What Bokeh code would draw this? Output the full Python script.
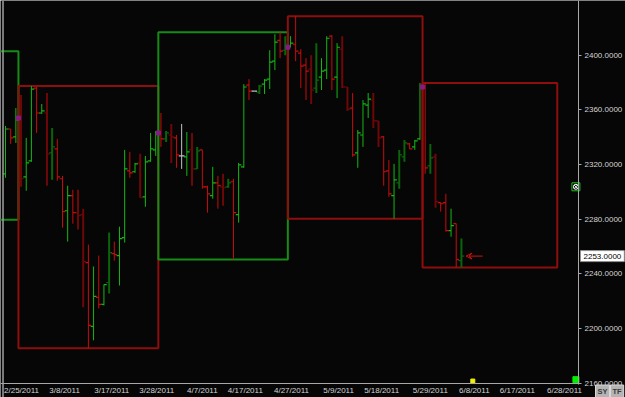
import numpy as np
from bokeh.plotting import figure
from bokeh.models import (Range1d, FixedTicker, NumeralTickFormatter, Label, Arrow,
                          VeeHead, Span, ColumnDataSource)
from bokeh.embed import file_html
from bokeh.resources import INLINE

# ---------------- data (daily bars, index = bar number) ----------------
bar_open = [2313.2, 2346.0, 2340.2, 2354.0, 2311.0, 2322.7, 2375.9, 2357.7, 2357.7, 2328.5,
            2331.4, 2309.6, 2286.2, 2297.2, 2284.8, 2283.3, 2248.3, 2201.6, 2222.8, 2217.7,
            2233.7, 2254.8, 2253.4, 2266.5, 2315.4, 2314.7, 2321.2, 2296.4, 2322.7, 2330.7,
            2343.1, 2338.7, 2341.6, 2339.5, 2326.3, 2325.6, 2330.7, 2316.8, 2330.7, 2303.7,
            2297.2, 2306.6, 2303.7, 2303.7, 2307.4, 2283.3, 2318.3, 2378.1, 2373.7, 2373.0,
            2378.8, 2382.5, 2395.6, 2410.9, 2403.6, 2405.8, 2408.0, 2401.5, 2392.7, 2389.8,
            2375.9, 2384.0, 2389.1, 2413.9, 2384.0, 2404.4, 2376.7, 2361.3, 2328.5, 2341.6,
            2363.5, 2367.2, 2351.9, 2340.2, 2315.4, 2297.2, 2306.6, 2325.6, 2335.1, 2332.9,
            2338.7, 2376.7, 2319.0, 2325.6, 2292.1, 2292.1, 2271.6, 2276.7, 2249.7]
bar_high = [2348.2, 2346.0, 2361.3, 2370.8, 2339.5, 2377.4, 2376.7, 2364.3, 2372.3, 2346.8,
            2338.7, 2311.7, 2304.5, 2301.5, 2301.5, 2287.7, 2261.4, 2245.4, 2253.4, 2232.2,
            2270.2, 2263.6, 2274.5, 2330.7, 2329.3, 2321.2, 2327.8, 2326.3, 2343.1, 2344.6,
            2357.7, 2344.6, 2349.7, 2341.6, 2349.7, 2343.8, 2343.1, 2332.9, 2330.7, 2304.5,
            2318.3, 2311.7, 2313.2, 2309.6, 2309.6, 2321.2, 2378.8, 2382.5, 2373.7, 2378.1,
            2382.5, 2403.6, 2415.3, 2416.8, 2413.9, 2413.9, 2428.4, 2404.4, 2397.8, 2400.0,
            2408.8, 2397.8, 2413.9, 2414.6, 2408.8, 2413.9, 2376.7, 2372.3, 2345.3, 2367.2,
            2372.3, 2372.3, 2351.9, 2340.9, 2323.4, 2320.5, 2330.7, 2338.0, 2335.8, 2338.0,
            2379.6, 2379.6, 2335.1, 2327.8, 2292.1, 2298.6, 2287.7, 2276.7, 2265.8]
bar_low = [2310.3, 2335.1, 2335.8, 2303.7, 2300.8, 2322.0, 2343.1, 2357.0, 2304.5, 2308.8,
           2308.1, 2273.8, 2263.6, 2276.7, 2272.4, 2215.5, 2185.6, 2191.4, 2214.7, 2216.9,
           2225.7, 2249.7, 2231.5, 2262.9, 2310.3, 2313.9, 2295.7, 2289.1, 2322.0, 2326.3,
           2332.9, 2336.5, 2321.2, 2317.6, 2316.8, 2311.7, 2304.5, 2316.8, 2302.3, 2284.8,
           2295.0, 2287.7, 2289.9, 2303.0, 2250.5, 2277.5, 2317.6, 2367.2, 2373.7, 2371.6,
           2371.6, 2375.2, 2389.1, 2397.8, 2400.0, 2405.8, 2395.6, 2375.9, 2367.2, 2364.3,
           2372.3, 2374.5, 2382.5, 2374.5, 2368.6, 2375.9, 2359.2, 2325.6, 2317.6, 2332.9,
           2354.0, 2346.8, 2332.9, 2304.5, 2296.4, 2280.4, 2302.3, 2322.0, 2331.4, 2330.7,
           2338.0, 2313.2, 2313.2, 2288.4, 2285.5, 2270.9, 2267.2, 2244.6, 2244.6]
bar_close = [2346.0, 2339.5, 2352.6, 2309.6, 2321.2, 2375.2, 2357.7, 2359.2, 2327.8, 2332.9,
             2311.0, 2285.5, 2297.2, 2284.8, 2282.6, 2249.0, 2202.3, 2223.5, 2217.7, 2232.2,
             2255.6, 2254.1, 2265.8, 2316.8, 2313.9, 2320.5, 2295.7, 2322.0, 2331.4, 2343.1,
             2338.7, 2343.1, 2340.2, 2327.1, 2326.3, 2329.3, 2316.8, 2330.0, 2303.7, 2298.6,
             2306.6, 2304.5, 2303.0, 2306.6, 2284.8, 2319.8, 2376.7, 2373.7, 2373.7, 2377.4,
             2381.8, 2394.9, 2409.5, 2402.9, 2407.3, 2408.8, 2402.9, 2392.0, 2388.3, 2374.5,
             2381.8, 2388.3, 2412.4, 2382.5, 2405.8, 2376.7, 2360.6, 2327.1, 2343.1, 2364.3,
             2367.9, 2351.9, 2339.5, 2314.7, 2298.6, 2308.8, 2327.1, 2335.8, 2331.4, 2337.3,
             2377.4, 2317.6, 2324.9, 2292.8, 2291.3, 2271.6, 2275.3, 2250.5, 2253.0]
# bars drawn in the darker shade
dark_bars = [3, 8, 9, 14, 15, 20, 26, 31, 32, 36, 37, 42, 43, 49, 54, 59, 60, 65, 66,
             71, 72, 76, 77, 82, 83, 88]

# monthly range boxes
month_names = ["Feb", "Mar", "Apr", "May", "Jun"]
month_first_bar = [-21, 3, 30, 55, 81]
month_last_bar = [2, 29, 54, 80, 106]
month_open = [2285.0, 2354.0, 2343.1, 2405.8, 2376.7]
month_high = [2402.9, 2377.4, 2416.8, 2428.4, 2379.6]
month_low = [2279.6, 2185.6, 2250.5, 2280.4, 2244.6]
month_close = [2352.6, 2343.1, 2407.3, 2377.4, 2253.0]

# axes
date_ticks = [3.1, 11.4, 20.5, 29.2, 38.0, 46.3, 55.2, 64.3, 72.6, 82.0, 90.5, 98.8, 107.9]
date_labels = ["2/25/2011", "3/8/2011", "3/17/2011", "3/28/2011", "4/7/2011", "4/17/2011",
               "4/27/2011", "5/9/2011", "5/18/2011", "5/29/2011", "6/8/2011", "6/17/2011",
               "6/28/2011"]
price_ticks = [2160, 2200, 2240, 2280, 2320, 2360, 2400]

# ---------------- styling ----------------
BG = "#060606"
GREEN, DGREEN = "#14b814", "#0b640b"
RED, DRED = "#c80c0c", "#6e0808"
GRAY = "#c4c4c4"
BOX_RED, BOX_GREEN = "#8e0e0e", "#168c16"
AXIS = "#a8a8a8"
FONT = "Liberation Sans"

X0, X_AXIS = -0.965, 110.6          # plotted bar span (axis line at right end)
Y_AXIS, Y1 = 2160.0, 2440.0         # price span (axis line at bottom)
px_per_bar = 578 / (X_AXIS - X0)
px_per_pt = 383 / (Y1 - 2159.8)
X1 = X0 + 625 / px_per_bar
Y0 = Y1 - 397 / px_per_pt

p = figure(width=625, height=397, output_backend="svg", toolbar_location=None,
           x_range=Range1d(X0, X1), y_range=Range1d(Y0, Y1),
           y_axis_location="right", min_border=0,
           min_border_left=0, min_border_top=0, min_border_right=0, min_border_bottom=0,
           background_fill_color=BG, border_fill_color=BG, outline_line_color=None)
p.grid.visible = False

# y axis (right side of the chart area)
ya = p.yaxis[0]
ya.fixed_location = X_AXIS
ya.bounds = (Y_AXIS - 1, Y1)
ya.ticker = FixedTicker(ticks=price_ticks)
ya.formatter = NumeralTickFormatter(format="0.0000")
ya.axis_line_color = AXIS
ya.major_tick_line_color = AXIS
ya.major_tick_out = 3
ya.major_tick_in = 0
ya.minor_tick_out = 0
ya.minor_tick_in = 0
ya.major_label_standoff = 3
ya.major_label_text_color = "#d4d4d4"
ya.major_label_text_font = FONT
ya.major_label_text_font_size = "8px"

# x axis
xa = p.xaxis[0]
xa.fixed_location = Y_AXIS
xa.bounds = (X0, X_AXIS)
xa.ticker = FixedTicker(ticks=date_ticks)
xa.major_label_overrides = {t: l for t, l in zip(date_ticks, date_labels)}
xa.axis_line_color = AXIS
xa.major_tick_out = 0
xa.major_tick_in = 0
xa.minor_tick_out = 0
xa.minor_tick_in = 0
xa.major_label_standoff = 3
xa.major_label_text_color = "#d4d4d4"
xa.major_label_text_font = FONT
xa.major_label_text_font_size = "8px"

# left gray cursor line
p.add_layout(Span(location=-0.48, dimension="height", line_color="#a0a0a0", line_width=1.5))

# month boxes
mf = np.array(month_first_bar, dtype=float)
ml = np.array(month_last_bar, dtype=float)
mcol = [BOX_GREEN if c > o else BOX_RED for o, c in zip(month_open, month_close)]
p.quad(left=mf - 0.5, right=ml + 0.5, top=month_high, bottom=month_low,
       fill_alpha=0, line_color=mcol, line_width=2)

# bars
n = len(bar_open)
idx = np.arange(n, dtype=float)
colors, widths = [], []
for i in range(n):
    dk = i in dark_bars
    if bar_close[i] > bar_open[i]:
        colors.append(DGREEN if dk else GREEN)
    elif bar_close[i] < bar_open[i]:
        colors.append(DRED if dk else RED)
    else:
        colors.append(GRAY)
    widths.append(2 if dk else 1)
src = ColumnDataSource(dict(x=idx, xl=idx - 0.55, xr=idx + 0.55, o=bar_open, h=bar_high,
                            l=bar_low, c=bar_close, color=colors, w=widths))
p.segment(x0="x", y0="l", x1="x", y1="h", line_color="color", line_width="w", source=src)
p.segment(x0="xl", y0="o", x1="x", y1="o", line_color="color", line_width=1.2, source=src)
p.segment(x0="x", y0="c", x1="xr", y1="c", line_color="color", line_width=1.2, source=src)

# month-open markers
p.scatter(x=mf - 0.5, y=month_open, marker="square", size=4,
          fill_color="#851c85", line_color="#851c85")

# arrow to last bar
last_i = n - 1
last_close = bar_close[-1]
p.add_layout(Arrow(end=VeeHead(size=6, line_color="#d41010", line_width=1),
                   x_start=last_i + 4.1, x_end=last_i + 0.9,
                   y_start=last_close, y_end=last_close,
                   line_color="#d41010", line_width=1))

# current price tag on the axis
p.add_layout(Label(x=580, x_units="screen", y=last_close, y_units="data",
                   text=f"{last_close:.4f}", text_font=FONT, text_font_size="8px",
                   text_color="black", text_baseline="middle", text_align="left",
                   background_fill_color="white", border_line_color="#909090",
                   padding=3))

# small decorations
p.scatter(x=[X_AXIS - 0.5], y=[2303.7], marker="square", size=8, fill_color=BG,
          line_color="#20c020", line_width=1)
p.scatter(x=[X_AXIS - 0.5], y=[2303.7], marker="circle_x", size=5, fill_alpha=0,
          line_color="white", line_width=1)
p.scatter(x=[X_AXIS - 0.5], y=[2162.6], marker="square", size=6, fill_color="#00f000",
          line_color="#00f000")
p.scatter(x=[90.2], y=[2161.6], marker="square", size=4, fill_color="#f0f000",
          line_color="#f0f000")
for txt, xs in (("SY", 595), ("TF", 610)):
    p.add_layout(Label(x=xs, x_units="screen", y=6, y_units="screen", text=txt,
                       text_font=FONT, text_font_size="7.5px", text_font_style="bold",
                       text_color="#3a3a3a", text_baseline="middle",
                       background_fill_color="#b4b4b4", border_line_color="#d8d8d8",
                       padding=2))

open("out.html", "w").write(file_html(p, INLINE))
